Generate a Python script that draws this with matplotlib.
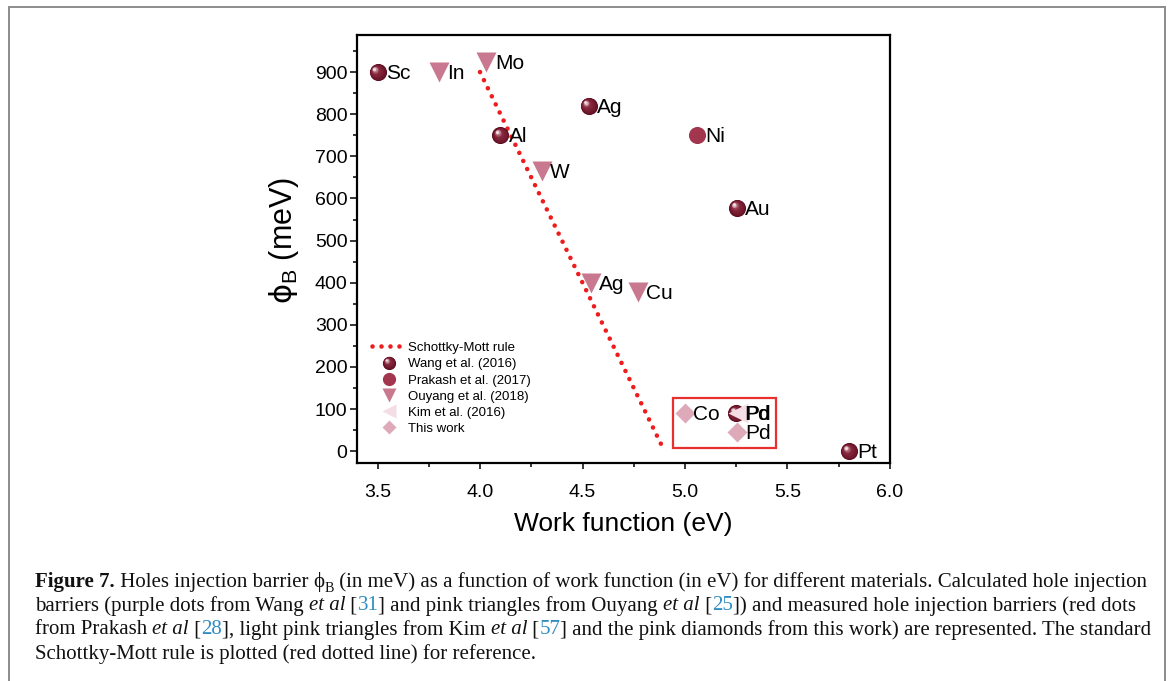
import numpy as np
import matplotlib
matplotlib.use('Agg')
import matplotlib.pyplot as plt
from matplotlib.lines import Line2D
from matplotlib.patches import Rectangle
from matplotlib.legend_handler import HandlerBase
from matplotlib.text import Annotation
from matplotlib.ticker import MultipleLocator, FormatStrFormatter
import matplotlib.transforms as mtransforms
from matplotlib.colors import to_rgb

plt.rcParams['font.family'] = ['Liberation Sans', 'DejaVu Sans']
plt.rcParams['mathtext.fontset'] = 'dejavusans'

# ---------------- data ----------------
wang_metals = ['Sc', 'Al', 'Ag', 'Au', 'Pd', 'Pt']
wang_wf = [3.50, 4.10, 4.53, 5.255, 5.25, 5.80]
wang_phi = [900, 750, 820, 578, 90, 0]

prakash_metals = ['Ni']
prakash_wf = [5.06]
prakash_phi = [750]

ouyang_metals = ['In', 'Mo', 'W', 'Ag', 'Cu']
ouyang_wf = [3.80, 4.03, 4.30, 4.54, 4.77]
ouyang_phi = [900, 925, 665, 400, 378]

kim_metals = ['Pd']
kim_wf = [5.26]
kim_phi = [90]

thiswork_metals = ['Co', 'Pd']
thiswork_wf = [5.00, 5.255]
thiswork_phi = [90, 45]

sm_wf = [4.0, 4.9]
sm_phi = [900, 0]

legend_labels = ['Schottky-Mott rule', 'Wang et al. (2016)', 'Prakash et al. (2017)',
                 'Ouyang et al. (2018)', 'Kim et al. (2016)', 'This work']

x_ticks = [3.5, 4.0, 4.5, 5.0, 5.5, 6.0]
y_ticks = [0, 100, 200, 300, 400, 500, 600, 700, 800, 900]

# ---------------- styles ----------------
C_SM = '#ee1c1c'
C_PRAKASH = '#a3364f'
C_OUYANG = '#c9798f'
C_KIM = '#f4dde4'
C_THIS = '#deaab9'
C_BOX = '#e8312f'
SM_LW = 3.3
SM_DASH = (0, (0.01, 1.95))


def mix(c1, c2, t):
    a, b = np.array(to_rgb(c1)), np.array(to_rgb(c2))
    return tuple(a + (b - a) * t)


def sphere_layers(size):
    layers = [(size, 0.0, 0.0, '#55091b')]
    n = 12
    for k in range(n):
        t = k / (n - 1)
        s = size * (0.93 - 0.78 * t)
        d = size * 0.20 * t
        if t < 0.6:
            c = mix('#6a1428', '#8a2a40', t / 0.6)
        else:
            c = mix('#8a2a40', '#f6e4e8', ((t - 0.6) / 0.4) ** 1.2)
        layers.append((s, -d, d, c))
    return layers


class HandlerSphere(HandlerBase):
    def __init__(self, size):
        super().__init__()
        self.size = size

    def create_artists(self, legend, orig_handle, xdescent, ydescent,
                       width, height, fontsize, trans):
        cx = width / 2 - xdescent
        cy = height / 2 - ydescent
        arts = []
        for s, dx, dy, c in sphere_layers(self.size):
            t = trans + mtransforms.ScaledTranslation(dx / 72, dy / 72,
                                                      legend.figure.dpi_scale_trans)
            arts.append(Line2D([cx], [cy], marker='o', ms=s, color=c, mec='none',
                               ls='none', transform=t))
        return arts


W, H = 1171, 681
fig = plt.figure(figsize=(W / 100, H / 100), dpi=100)
ax = fig.add_axes([357 / W, (H - 463) / H, 533 / W, 428 / H])

# outer frame (bottom edge cut off)
fig.add_artist(Rectangle((8.5 / W, -0.05), (1165 - 8.5) / W, (H - 7) / H + 0.05,
                         transform=fig.transFigure, fill=False, ec='#8c8c8c', lw=1.4))

# Schottky-Mott rule
ax.plot(sm_wf, sm_phi, color=C_SM, lw=SM_LW, ls=SM_DASH,
        dash_capstyle='round', zorder=2)


def draw_spheres(xs, ys, size):
    for s, dx, dy, c in sphere_layers(size):
        tr = mtransforms.offset_copy(ax.transData, fig=fig, x=dx, y=dy, units='points')
        ax.plot(xs, ys, ls='none', marker='o', ms=s, color=c, mec='none',
                transform=tr, zorder=3)


draw_spheres(wang_wf, wang_phi, 12.3)
ax.plot(prakash_wf, prakash_phi, ls='none', marker='o', ms=12.3, color=C_PRAKASH,
        mec='none', zorder=3)
ax.plot(ouyang_wf, ouyang_phi, ls='none', marker='v', ms=14, color=C_OUYANG,
        mec='none', zorder=3)
ax.plot(kim_wf, kim_phi, ls='none', marker='<', ms=14, color=C_KIM,
        mec='none', zorder=4)
ax.plot(thiswork_wf, thiswork_phi, ls='none', marker='D', ms=10.5, color=C_THIS,
        mec='none', zorder=4)

# point labels
LBL = dict(fontsize=15, va='center', ha='left', textcoords='offset points', zorder=5)
for m, x, y in zip(wang_metals, wang_wf, wang_phi):
    ax.annotate(m, (x, y), xytext=(5.8, -1.2), **LBL)
for m, x, y in zip(prakash_metals, prakash_wf, prakash_phi):
    ax.annotate(m, (x, y), xytext=(5.8, -1.2), **LBL)
for m, x, y in zip(ouyang_metals, ouyang_wf, ouyang_phi):
    ax.annotate(m, (x, y), xytext=(6.2, -1.2), **LBL)
for m, x, y in zip(kim_metals, kim_wf, kim_phi):
    ax.annotate(m, (x, y), xytext=(4.9, -1.2), **LBL)
for m, x, y in zip(thiswork_metals, thiswork_wf, thiswork_phi):
    ax.annotate(m, (x, y), xytext=(6.0, -1.2), **LBL)

# red box around this work
ax.add_patch(Rectangle((4.943, 7), 5.446 - 4.943, 126 - 7, fill=False,
                       ec=C_BOX, lw=1.6, zorder=2))

# axes styling
ax.set_xlim(3.4, 6.0)
ax.set_ylim(-28, 988)
ax.set_xticks(x_ticks)
ax.set_yticks(y_ticks)
ax.xaxis.set_major_formatter(FormatStrFormatter('%.1f'))
ax.xaxis.set_minor_locator(MultipleLocator(0.25))
ax.yaxis.set_minor_locator(MultipleLocator(50))
for sp in ax.spines.values():
    sp.set_linewidth(1.6)
ax.tick_params(axis='both', which='both', direction='out', top=False, right=False,
               width=1.1, labelsize=14)
ax.tick_params(axis='x', which='major', length=4.6, pad=10.5)
ax.tick_params(axis='x', which='minor', length=2.7)
ax.tick_params(axis='y', which='major', length=4.8, pad=2)
ax.tick_params(axis='y', which='minor', length=2.8)

ax.set_xlabel('Work function (eV)', fontsize=19)
ax.xaxis.set_label_coords(0.5, -0.115)
ax.set_ylabel(r'$\mathrm{\phi}_\mathregular{B}$ (meV)', fontsize=22)
ax.yaxis.set_label_coords(-0.106, 0.52)

# legend
sphere_proxy = Line2D([], [], ls='none')
handles = [
    Line2D([], [], color=C_SM, lw=SM_LW, ls=SM_DASH, dash_capstyle='round'),
    sphere_proxy,
    Line2D([], [], ls='none', marker='o', ms=9.5, color=C_PRAKASH, mec='none'),
    Line2D([], [], ls='none', marker='v', ms=10.5, color=C_OUYANG, mec='none'),
    Line2D([], [], ls='none', marker='<', ms=10.5, color=C_KIM, mec='none'),
    Line2D([], [], ls='none', marker='D', ms=7.5, color=C_THIS, mec='none'),
]
leg = ax.legend(handles, legend_labels, loc='upper left', bbox_to_anchor=(0.028, 0.283),
                frameon=False, fontsize=9.5, borderpad=0, borderaxespad=0,
                handlelength=2.6, handletextpad=0.15, labelspacing=0.3,
                handler_map={sphere_proxy: HandlerSphere(9.5)})

# ---------------- caption ----------------
CAP_SIZE = 15.0
BLUE = '#2f8cc2'
SERIF = ['Liberation Serif', 'DejaVu Serif']


def caption_line(x_px, y_px, pieces):
    prev = None
    base = None
    for txt, kind in pieces:
        kw = dict(fontsize=CAP_SIZE, family=SERIF, color='#111111', ha='left', va='bottom')
        xytext = (0, 0)
        if kind == 'b':
            kw['fontweight'] = 'bold'
        elif kind == 'i':
            kw['fontstyle'] = 'italic'
        elif kind == 'blue':
            kw['color'] = BLUE
        elif kind == 'sub':
            kw['fontsize'] = CAP_SIZE * 0.68
            xytext = (0.2, -2.6)
        if prev is None:
            a = Annotation(txt, xy=(x_px, y_px), xycoords='figure pixels', **kw)
        else:
            coords = (prev, base) if kind != 'sub' else (prev, prev)
            a = Annotation(txt, xy=(1, 0), xycoords=coords, xytext=xytext,
                           textcoords='offset points', **kw)
        fig.add_artist(a)
        if kind != 'sub':
            base = a
        prev = a


lines = [
    [('Figure 7.', 'b'), (' Holes injection barrier ', 'n'), ('ϕ', 'n'), ('B', 'sub'),
     (' (in meV) as a function of work function (in eV) for different materials. '
      'Calculated hole injection', 'n')],
    [('barriers (purple dots from Wang ', 'n'), ('et al', 'i'), (' [', 'n'), ('31', 'blue'),
     ('] and pink triangles from Ouyang ', 'n'), ('et al', 'i'), (' [', 'n'), ('25', 'blue'),
     (']) and measured hole injection barriers (red dots', 'n')],
    [('from Prakash ', 'n'), ('et al', 'i'), (' [', 'n'), ('28', 'blue'),
     ('], light pink triangles from Kim ', 'n'), ('et al', 'i'), (' [', 'n'), ('57', 'blue'),
     ('] and the pink diamonds from this work) are represented. The standard', 'n')],
    [('Schottky-Mott rule is plotted (red dotted line) for reference.', 'n')],
]
for i, pcs in enumerate(lines):
    caption_line(35, H - 591.5 - 24 * i, pcs)

fig.savefig('out.png', dpi=100)
